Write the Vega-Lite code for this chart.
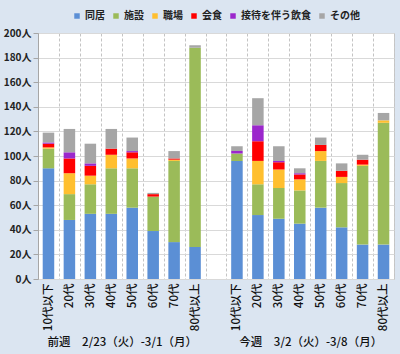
{
  "$schema": "https://vega.github.io/schema/vega-lite/v6.json",
  "width": 356,
  "height": 246,
  "autosize": {"type": "none"},
  "padding": {"left": 38, "top": 33, "right": 6, "bottom": 75},
  "background": "#dbe5f1",
  "config": {
    "view": {"fill": "white", "stroke": "#c8c8c8"},
    "font": "Noto Sans CJK JP"
  },
  "data": {
    "values": [
      {"g": "前週　2/23（火）-3/1（月）", "x": "前週|10代以下", "同居": 90, "施設": 16, "職場": 1, "会食": 3, "接待を伴う飲食": 1, "その他": 8},
      {"g": "前週　2/23（火）-3/1（月）", "x": "前週|20代", "同居": 48, "施設": 21, "職場": 17, "会食": 12, "接待を伴う飲食": 5, "その他": 19},
      {"g": "前週　2/23（火）-3/1（月）", "x": "前週|30代", "同居": 53, "施設": 24, "職場": 7, "会食": 8, "接待を伴う飲食": 2, "その他": 16},
      {"g": "前週　2/23（火）-3/1（月）", "x": "前週|40代", "同居": 53, "施設": 37, "職場": 11, "会食": 5, "接待を伴う飲食": 0, "その他": 16},
      {"g": "前週　2/23（火）-3/1（月）", "x": "前週|50代", "同居": 58, "施設": 32, "職場": 8, "会食": 5, "接待を伴う飲食": 1, "その他": 11},
      {"g": "前週　2/23（火）-3/1（月）", "x": "前週|60代", "同居": 39, "施設": 28, "職場": 0, "会食": 2, "接待を伴う飲食": 0, "その他": 1},
      {"g": "前週　2/23（火）-3/1（月）", "x": "前週|70代", "同居": 30, "施設": 66, "職場": 1, "会食": 1, "接待を伴う飲食": 0, "その他": 6},
      {"g": "前週　2/23（火）-3/1（月）", "x": "前週|80代以上", "同居": 26, "施設": 162, "職場": 0, "会食": 0, "接待を伴う飲食": 0, "その他": 2},
      {"g": "今週　3/2（火）-3/8（月）", "x": "今週|10代以下", "同居": 96, "施設": 6, "職場": 0, "会食": 0, "接待を伴う飲食": 2, "その他": 4},
      {"g": "今週　3/2（火）-3/8（月）", "x": "今週|20代", "同居": 52, "施設": 25, "職場": 19, "会食": 16, "接待を伴う飲食": 13, "その他": 22},
      {"g": "今週　3/2（火）-3/8（月）", "x": "今週|30代", "同居": 49, "施設": 25, "職場": 15, "会食": 6, "接待を伴う飲食": 1, "その他": 12},
      {"g": "今週　3/2（火）-3/8（月）", "x": "今週|40代", "同居": 45, "施設": 27, "職場": 9, "会食": 4, "接待を伴う飲食": 1, "その他": 4},
      {"g": "今週　3/2（火）-3/8（月）", "x": "今週|50代", "同居": 58, "施設": 38, "職場": 8, "会食": 5, "接待を伴う飲食": 0, "その他": 6},
      {"g": "今週　3/2（火）-3/8（月）", "x": "今週|60代", "同居": 42, "施設": 36, "職場": 5, "会食": 5, "接待を伴う飲食": 0, "その他": 6},
      {"g": "今週　3/2（火）-3/8（月）", "x": "今週|70代", "同居": 28, "施設": 64, "職場": 1, "会食": 4, "接待を伴う飲食": 0, "その他": 4},
      {"g": "今週　3/2（火）-3/8（月）", "x": "今週|80代以上", "同居": 28, "施設": 99, "職場": 2, "会食": 0, "接待を伴う飲食": 0, "その他": 6}
    ]
  },
  "transform": [
    {"fold": ["同居", "施設", "職場", "会食", "接待を伴う飲食", "その他"], "as": ["cat", "n"]},
    {"window": [{"op": "row_number", "as": "k"}], "groupby": ["x"]}
  ],
  "layer": [
    {
      "mark": {"type": "bar", "width": {"band": 0.55}},
      "encoding": {
        "x": {
          "field": "x",
          "type": "nominal",
          "scale": {
            "domain": ["前週|10代以下", "前週|20代", "前週|30代", "前週|40代", "前週|50代", "前週|60代", "前週|70代", "前週|80代以上", "|", "今週|10代以下", "今週|20代", "今週|30代", "今週|40代", "今週|50代", "今週|60代", "今週|70代", "今週|80代以上"],
            "paddingInner": 0,
            "paddingOuter": 0
          },
          "axis": {
            "title": null,
            "tickBand": "extent",
            "grid": true,
            "gridDash": [3, 2],
            "gridColor": "#c4c4c4",
            "ticks": false,
            "domain": false,
            "labelAngle": -90,
            "labelFontSize": 11.5,
            "labelFontWeight": 500,
            "labelPadding": 4,
            "labelColor": "#111",
            "labelExpr": "split(datum.label, '|')[1]"
          }
        },
        "y": {
          "field": "n",
          "type": "quantitative",
          "stack": "zero",
          "scale": {"domain": [0, 200]},
          "axis": {
            "title": null,
            "values": [0, 20, 40, 60, 80, 100, 120, 140, 160, 180, 200],
            "labelExpr": "datum.value + '人'",
            "gridColor": "#d9d9d9",
            "domainColor": "#a6a6a6",
            "tickColor": "#a6a6a6",
            "tickSize": 5,
            "labelFontWeight": "bold",
            "labelFontSize": 10,
            "labelPadding": 2,
            "labelColor": "#222"
          }
        },
        "color": {
          "field": "cat",
          "type": "nominal",
          "scale": {
            "domain": ["同居", "施設", "職場", "会食", "接待を伴う飲食", "その他"],
            "range": ["#5b8fd5", "#9bbb59", "#ffbf2f", "#ff0000", "#9b27cc", "#a6a6a6"]
          },
          "legend": {
            "title": null,
            "orient": "none",
            "legendX": 34,
            "legendY": -22,
            "direction": "horizontal",
            "symbolType": "square",
            "symbolSize": 30,
            "symbolStrokeWidth": 0,
            "labelFontSize": 10,
            "labelFontWeight": "bold",
            "labelColor": "#222",
            "labelOffset": 3,
            "columnPadding": 6,
            "padding": 0
          }
        },
        "order": {"field": "k", "sort": "ascending"}
      }
    },
    {
      "mark": {"type": "text"},
      "encoding": {
        "x": {
          "field": "g",
          "type": "nominal",
          "scale": {"type": "point", "domain": ["前週　2/23（火）-3/1（月）", "今週　3/2（火）-3/8（月）"], "padding": 0.4444},
          "axis": {
            "orient": "bottom",
            "title": null,
            "offset": 55,
            "domain": false,
            "ticks": false,
            "grid": false,
            "labelAngle": 0,
            "labelFontSize": 11.5,
            "labelFontWeight": 500,
            "labelColor": "#111",
            "labelPadding": 2
          }
        },
        "text": {"value": ""}
      }
    }
  ],
  "resolve": {"scale": {"x": "independent"}, "axis": {"x": "independent"}}
}
